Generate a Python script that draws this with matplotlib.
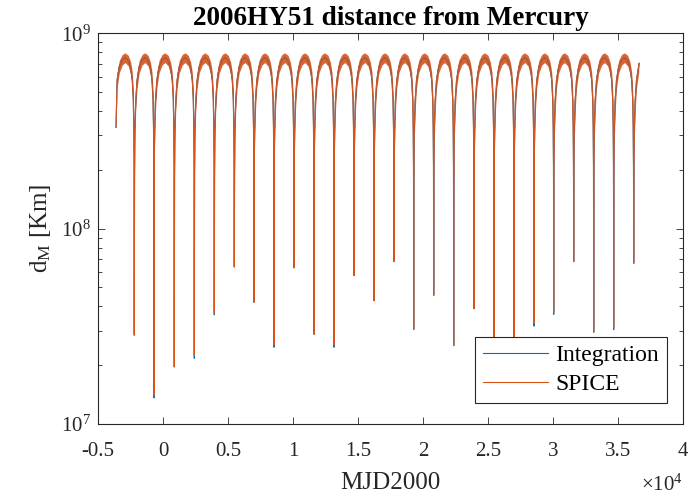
import numpy as np
import matplotlib.pyplot as plt
from matplotlib.transforms import ScaledTranslation

# close approaches (MJD2000 days)
min_mjd = [-2208, -692, 869, 2408, 3946, 5485, 7000, 8538, 10077, 11615, 13154, 14692, 16231,
           17769, 19285, 20823, 22362, 23923, 25462, 27000, 28538, 30054, 31592, 33131, 34669, 36208]
# minimum distance at each approach [km]
spice_min = [2.85e7, 1.40e7, 1.96e7, 2.24e7, 3.68e7, 6.37e7, 4.2e7, 2.53e7, 6.3e7, 2.88e7, 2.53e7, 5.75e7, 4.28e7,
             6.8e7, 3.05e7, 4.56e7, 2.52e7, 3.9e7, 2.0e7, 2.1e7, 3.27e7, 3.75e7, 6.78e7, 2.95e7, 3.11e7, 6.65e7]
integ_min = [2.85e7, 1.36e7, 1.96e7, 2.17e7, 3.62e7, 6.37e7, 4.2e7, 2.47e7, 6.3e7, 2.88e7, 2.47e7, 5.75e7, 4.28e7,
             6.8e7, 3.05e7, 4.56e7, 2.52e7, 3.9e7, 2.0e7, 2.1e7, 3.17e7, 3.64e7, 6.78e7, 2.95e7, 3.04e7, 6.65e7]
# approaches just outside the plotted span (first arch starts / last arch ends)
min_before = -3745
min_after = 37745
start_mjd, start_d = -3615, 3.3e8
end_mjd, end_d = 36615, 7.0e8

# shape of one arch between two approaches:
# fraction of the gap, log10 distance (band centre), half thickness of the fast Mercury wiggle
arch_phase = [0.012, 0.03, 0.07, 0.14, 0.25, 0.40, 0.54, 0.70, 0.82, 0.90, 0.95, 0.975, 0.99]
arch_logd = [8.30, 8.50, 8.65, 8.76, 8.83, 8.865, 8.875, 8.86, 8.82, 8.76, 8.66, 8.52, 8.32]
arch_halfw = [0.05, 0.06, 0.05, 0.04, 0.032, 0.027, 0.025, 0.027, 0.032, 0.04, 0.05, 0.06, 0.05]

x_ticks = [-5000, 0, 5000, 10000, 15000, 20000, 25000, 30000, 35000, 40000]
x_labels = ['-0.5', '0', '0.5', '1', '1.5', '2', '2.5', '3', '3.5', '4']


def build(mins):
    edges = [min_before] + min_mjd + [min_after]
    depth = [None] + list(mins) + [None]
    xs, ys, hw = [start_mjd], [start_d], [0.0]
    for i in range(len(edges) - 1):
        a, b = edges[i], edges[i + 1]
        if depth[i] is not None:
            xs.append(a); ys.append(depth[i]); hw.append(0.0)
        for p, l, w in zip(arch_phase, arch_logd, arch_halfw):
            x = a + p * (b - a)
            if start_mjd < x < end_mjd:
                xs.append(x); ys.append(10 ** l); hw.append(w)
    xs.append(end_mjd); ys.append(end_d); hw.append(0.0)
    return np.array(xs), np.array(ys), np.array(hw)


plt.rcParams['font.family'] = 'Liberation Serif'
plt.rcParams['mathtext.fontset'] = 'custom'
plt.rcParams['mathtext.rm'] = 'Liberation Serif'
plt.rcParams['mathtext.it'] = 'Liberation Serif:italic'

blue = '#0072BD'
orange = '#D95319'
dark = '#262626'

fig = plt.figure(figsize=(6.88, 4.98), dpi=100)
ax = fig.add_axes([98 / 688, 1 - 424 / 498, 585 / 688, 390.7 / 498])

xi, yi, _ = build(integ_min)
xs, ys, hs = build(spice_min)
ax.plot(xi, yi, color=blue, lw=0.8, label='Integration')
ax.fill_between(xs, ys / 10 ** hs, ys * 10 ** hs, color=orange, lw=0, alpha=0.9)
ax.plot(xs, ys, color=orange, lw=0.8, label='SPICE')

ax.set_yscale('log')
ax.set_xlim(-5000, 40000)
ax.set_ylim(1e7, 1e9)
ax.set_xticks(x_ticks)
ax.set_xticklabels(x_labels)
ax.set_yticks([1e7, 1e8, 1e9])
ax.set_yticklabels([r'$10^7$', r'$10^8$', r'$10^9$'])
shift = ScaledTranslation(0, -4 / 72, fig.dpi_scale_trans)
for lab in ax.get_yticklabels():
    lab.set_transform(lab.get_transform() + shift)

ax.tick_params(which='both', direction='in', top=True, right=True, color=dark, width=0.6,
               labelsize=15, labelcolor=dark)
ax.tick_params(axis='x', which='major', length=5, pad=13)
ax.tick_params(axis='y', which='major', length=5, pad=5)
ax.tick_params(which='minor', length=3)
for s in ax.spines.values():
    s.set_color(dark)
    s.set_linewidth(0.8)

ax.set_title('2006HY51 distance from Mercury', fontsize=19.5, fontweight='bold', color='black', pad=6)
ax.set_xlabel('MJD2000', fontsize=18, color=dark, labelpad=8)
ax.set_ylabel(r'd$_{\rm M}$ [Km]', fontsize=18, color=dark, labelpad=6)
ax.text(1.0, -0.13, r'$\times10^4$', transform=ax.transAxes, ha='right', va='top', fontsize=15, color=dark)

leg = ax.legend(loc='lower right', bbox_to_anchor=(0.9726, 0.053), borderaxespad=0,
                fontsize=17, handlelength=2.75, handletextpad=0.3, borderpad=0.35,
                labelspacing=0.3, fancybox=False, framealpha=1, edgecolor=dark)
leg.get_frame().set_linewidth(0.8)
for t in leg.get_texts():
    t.set_color('black')

fig.savefig('out.png', dpi=100)
